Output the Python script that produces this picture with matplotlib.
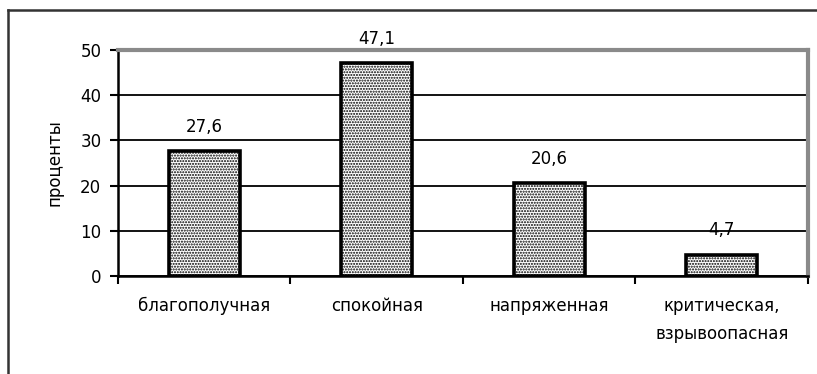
import matplotlib
matplotlib.use("Agg")
import matplotlib.pyplot as plt
from matplotlib.lines import Line2D

plt.rcParams['font.family'] = ['DejaVu Sans']
plt.rcParams['hatch.linewidth'] = 1.0

categories = ["благополучная", "спокойная", "напряженная", "критическая,\nвзрывоопасная"]
values = [27.6, 47.1, 20.6, 4.7]
value_labels = ["27,6", "47,1", "20,6", "4,7"]
yticks = [0, 10, 20, 30, 40, 50]

FS = 12
W, H = 817, 374
fig = plt.figure(figsize=(W / 100, H / 100), dpi=100)
ax = fig.add_axes([118 / W, 1 - 276 / H, (808 - 118) / W, (276 - 50) / H])

x = list(range(len(categories)))
ax.bar(x, values, width=0.41, color="white", edgecolor="black",
       linewidth=2.6, hatch="......", zorder=3)

for xi, v, lab in zip(x, values, value_labels):
    ax.annotate(lab, (xi, v), xytext=(0, 11), textcoords="offset points",
                ha="center", va="bottom", fontsize=FS)

ax.set_xlim(-0.5, len(categories) - 0.5)
ax.set_ylim(0, 50)
ax.set_yticks(yticks)
ax.set_yticklabels([str(t) for t in yticks], fontsize=FS)
ax.yaxis.grid(True, color="black", linewidth=1.3, zorder=0)
ax.set_axisbelow(True)

# category labels centred in slots, ticks on slot boundaries
ax.set_xticks(x)
ax.set_xticklabels(categories, fontsize=FS, linespacing=1.75)
ax.tick_params(axis="x", length=0, pad=15)
ax.set_xticks([i - 0.5 for i in range(len(categories) + 1)], minor=True)
ax.tick_params(axis="x", which="minor", length=6, width=1.5, color="black")
ax.tick_params(axis="y", length=6, width=1.5, color="black", pad=6)

ax.set_ylabel("проценты", fontsize=FS, labelpad=12)

for side in ("left", "bottom"):
    ax.spines[side].set_color("black")
    ax.spines[side].set_linewidth(1.8)
for side in ("top", "right"):
    ax.spines[side].set_color("#8a8a8a")
    ax.spines[side].set_linewidth(3)

# outer chart frame
fig.add_artist(Line2D([8 / W, 1], [1 - 10 / H, 1 - 10 / H],
                      transform=fig.transFigure, color="#333333", linewidth=1.8))
fig.add_artist(Line2D([8 / W, 8 / W], [1 - 10 / H, 0],
                      transform=fig.transFigure, color="#333333", linewidth=1.8))

fig.savefig("out.png", dpi=100)
